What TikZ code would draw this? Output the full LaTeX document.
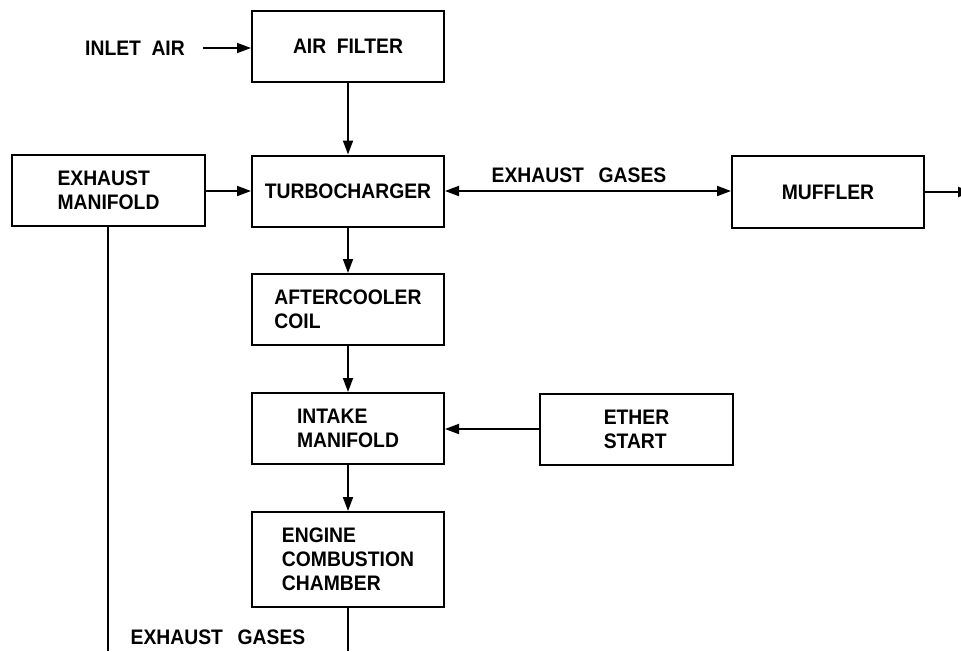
\documentclass[tikz,border=0pt]{standalone}
\usepackage{fontspec}
\setmainfont{Liberation Sans}[FakeStretch=0.92]
\usetikzlibrary{arrows.meta}
\newcommand{\ws}{\hspace{0.5em}}
\begin{document}
\begin{tikzpicture}[x=1pt,y=-1pt,
  box/.style={draw,line width=2pt,minimum width=192pt,inner sep=0pt,align=left,
    font=\fontsize{21pt}{24pt}\selectfont\bfseries},
  lbl/.style={inner sep=0pt,font=\fontsize{21pt}{24pt}\selectfont\bfseries},
  tip/.tip={Triangle[length=14pt,width=10pt]},
  conn/.style={line width=1.8pt,-tip},
  plain/.style={line width=1.8pt}]
\useasboundingbox (0,0) rectangle (961,651);
\clip (0,0) rectangle (961,651);
% boxes
\node[box,minimum height=71pt] (af) at (348,46.5) {AIR\ws FILTER};
\node[box,minimum height=71pt,minimum width=193pt] (em) at (108.5,190) {EXHAUST\\MANIFOLD};
\node[box,minimum height=71pt] (tc) at (348,191) {TURBOCHARGER};
\node[box,minimum height=72pt] (mu) at (828,192) {MUFFLER};
\node[box,minimum height=71pt] (ac) at (348,309.5) {AFTERCOOLER\\COIL};
\node[box,minimum height=71pt] (im) at (348,428.5) {INTAKE\\MANIFOLD};
\node[box,minimum height=71pt,minimum width=193pt] (es) at (636.5,429) {ETHER\\START};
\node[box,minimum height=95pt] (ec) at (348,559.5) {ENGINE\\COMBUSTION\\CHAMBER};
% labels
\node[lbl,anchor=west] (inlet) at (85,48) {INLET\ws AIR};
\node[lbl] (eg1) at (579,175) {EXHAUST\hspace{0.7em}GASES};
\node[lbl] (eg2) at (218,637) {EXHAUST\hspace{0.7em}GASES};
% free ends
\coordinate (inletend) at (203,48);
\coordinate (mufout) at (972,192);
\coordinate (embot) at (108,651);
\coordinate (ecbot) at (348,651);
% connectors
\draw[conn] (inletend) -- (af.west |- inletend);
\draw[conn] (af.south) -- (tc.north);
\draw[conn] (em.east |- tc.west) -- (tc.west);
\draw[line width=1.8pt,tip-tip] (tc.east) -- (mu.west |- tc.east);
\draw[conn] (mu.east) -- (mufout);
\draw[conn] (tc.south) -- (ac.north);
\draw[conn] (ac.south) -- (im.north);
\draw[conn] (es.west) -- (im.east |- es.west);
\draw[conn] (im.south) -- (ec.north);
\draw[plain] (em.south -| embot) -- (embot);
\draw[plain] (ec.south) -- (ecbot);
\end{tikzpicture}
\end{document}
